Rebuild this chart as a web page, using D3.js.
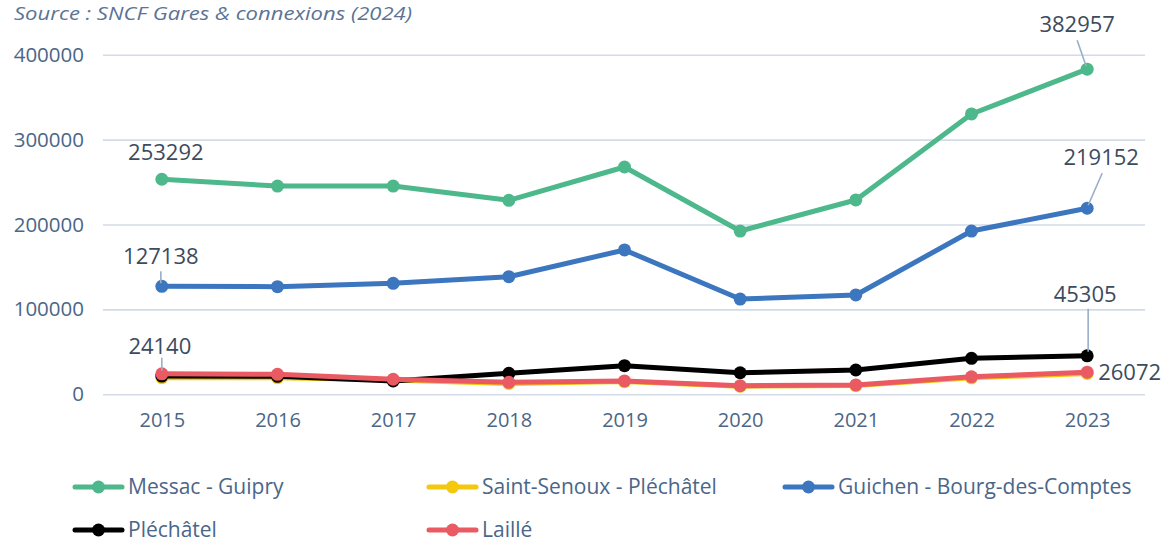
<!DOCTYPE html>
<html lang="fr">
<head>
<meta charset="utf-8">
<script src="https://cdn.jsdelivr.net/npm/d3@7"></script>
<style>
  html, body { margin: 0; padding: 0; background: #ffffff; }
  svg { display: block; font-family: "Open Sans", "Noto Sans", sans-serif; }
</style>
</head>
<body>
<svg id="chart" width="1164" height="544"></svg>
<script>
// Fréquentation annuelle des gares (voyageurs)
const years = ["2015", "2016", "2017", "2018", "2019", "2020", "2021", "2022", "2023"];
const messacGuipry      = [253292, 245300, 245300, 228500, 267700, 192300, 228900, 330200, 382957];
const saintSenoux       = [19500, 19600, 16800, 12700, 15000, 9500, 10300, 19400, 24500];
const guichenBourg      = [127138, 126800, 130700, 138500, 170000, 112200, 117000, 192300, 219152];
const plechatel         = [21500, 21200, 15700, 24700, 33700, 25400, 28600, 42400, 45305];
const laille            = [24140, 23500, 17700, 14100, 15700, 10100, 11000, 20700, 26072];
const yTicks = [0, 100000, 200000, 300000, 400000];
const sourceText = "Source : SNCF Gares & connexions (2024)";

const series = [
  { name: "Messac - Guipry",              values: messacGuipry, color: "#4db88b" },
  { name: "Saint-Senoux - Pléchâtel",     values: saintSenoux,  color: "#f3c80f" },
  { name: "Guichen - Bourg-des-Comptes",  values: guichenBourg, color: "#3b76bf" },
  { name: "Pléchâtel",                    values: plechatel,    color: "#000000" },
  { name: "Laillé",                       values: laille,       color: "#ea5a62" }
];

const svg = d3.select("#chart");
const plot = { left: 104, right: 1145, top: 54.7, bottom: 394.3 };

const x = d3.scalePoint().domain(years).range([plot.left, plot.right]).padding(0.5);
const y = d3.scaleLinear().domain([0, 400000]).range([plot.bottom, plot.top]);

const tickColor = "#4b6687";
const labelColor = "#3c4b5e";

// Source line
svg.append("text")
  .attr("x", 14).attr("y", 20)
  .attr("font-size", 18.5).attr("font-style", "italic")
  .attr("textLength", 398).attr("lengthAdjust", "spacingAndGlyphs")
  .attr("fill", "#5b7394")
  .text(sourceText);

// Y axis with gridlines
const yAxis = svg.append("g")
  .attr("transform", `translate(${plot.left - 1},0)`)
  .call(d3.axisLeft(y).tickValues(yTicks).tickFormat(d3.format("d"))
    .tickSize(-(plot.right - plot.left + 1)).tickPadding(19));
yAxis.select(".domain").remove();
yAxis.selectAll(".tick line").attr("stroke", "#d3dbe7").attr("stroke-width", 1.6);
yAxis.selectAll(".tick text").attr("fill", tickColor).attr("font-size", 20.5)
  .attr("font-family", "'Open Sans', sans-serif");

// X axis
const xAxis = svg.append("g")
  .attr("transform", `translate(0,${plot.bottom})`)
  .call(d3.axisBottom(x).tickSize(0).tickPadding(19));
xAxis.select(".domain").remove();
xAxis.selectAll(".tick text").attr("fill", tickColor).attr("font-size", 20)
  .attr("font-family", "'Open Sans', sans-serif");

// Lines and markers
const line = d3.line().x((d, i) => x(years[i])).y(d => y(d));
const seriesG = svg.append("g").selectAll("g").data(series).join("g");
seriesG.append("path")
  .attr("d", d => line(d.values))
  .attr("fill", "none")
  .attr("stroke", d => d.color)
  .attr("stroke-width", 5)
  .attr("stroke-linejoin", "round");
seriesG.each(function (s) {
  d3.select(this).selectAll("circle").data(s.values).join("circle")
    .attr("cx", (d, i) => x(years[i]))
    .attr("cy", d => y(d))
    .attr("r", 6.5)
    .attr("fill", s.color);
});

// Value labels with leader lines
const annotations = [
  { values: messacGuipry, i: 0, dx: 4,  dy: -19, anchor: "middle", leader: null },
  { values: messacGuipry, i: 8, dx: -10, dy: -37, anchor: "middle", leader: [[-10, -29], [-1, -3]] },
  { values: guichenBourg, i: 0, dx: -1, dy: -22, anchor: "middle", leader: [[-1, -15], [-1, -3]] },
  { values: guichenBourg, i: 8, dx: 14, dy: -43, anchor: "middle", leader: [[15, -35], [1, -3]] },
  { values: plechatel,    i: 8, dx: -2, dy: -54, anchor: "middle", leader: [[1, -47], [1, -4]] },
  { values: laille,       i: 0, dx: -2, dy: -20, anchor: "middle", leader: [[0, -16], [0, -3]] },
  { values: laille,       i: 8, dx: 11, dy: 8,   anchor: "start",  leader: null }
];
const annG = svg.append("g");
annotations.forEach(a => {
  const px = x(years[a.i]);
  const py = y(a.values[a.i]);
  if (a.leader) {
    annG.append("line")
      .attr("x1", px + a.leader[0][0]).attr("y1", py + a.leader[0][1])
      .attr("x2", px + a.leader[1][0]).attr("y2", py + a.leader[1][1])
      .attr("stroke", "#98aeca").attr("stroke-width", 1.6);
  }
  annG.append("text")
    .attr("x", px + a.dx).attr("y", py + a.dy)
    .attr("text-anchor", a.anchor)
    .attr("font-size", 22)
    .attr("fill", labelColor)
    .text(a.values[a.i]);
});

// Legend
const legendPos = [[75, 487], [429, 487], [785, 487], [75, 530], [429, 530]];
const legend = svg.append("g").selectAll("g").data(series).join("g")
  .attr("transform", (d, i) => `translate(${legendPos[i][0]},${legendPos[i][1]})`);
legend.append("line")
  .attr("x1", 0).attr("x2", 47).attr("y1", 0).attr("y2", 0)
  .attr("stroke", d => d.color).attr("stroke-width", 5).attr("stroke-linecap", "round");
legend.append("circle")
  .attr("cx", 23.5).attr("cy", 0).attr("r", 6.5)
  .attr("fill", d => d.color);
legend.append("text")
  .attr("x", 53).attr("y", 0).attr("dy", "0.35em")
  .attr("font-size", 21).attr("fill", "#4a6689")
  .text(d => d.name);
</script>
</body>
</html>
